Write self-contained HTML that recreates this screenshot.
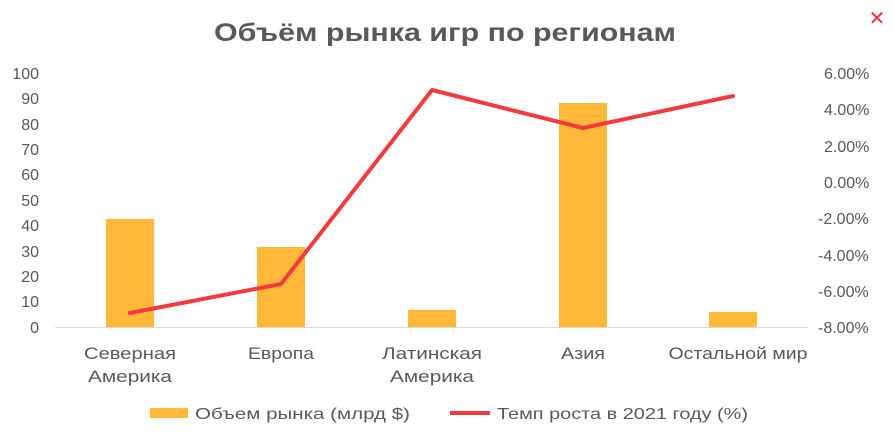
<!DOCTYPE html>
<html><head><meta charset="utf-8"><style>
html,body{margin:0;padding:0;background:#fff;}
svg{display:block;font-family:"Liberation Sans","DejaVu Sans",sans-serif;}
</style></head><body>
<svg width="894" height="443" viewBox="0 0 894 443" xmlns="http://www.w3.org/2000/svg">
<text x="445" y="41" text-anchor="middle" font-size="25" font-weight="bold" fill="#595959" textLength="462" lengthAdjust="spacingAndGlyphs">Объём рынка игр по регионам</text>
<text x="877" y="25" text-anchor="middle" font-size="20" fill="#e8323c">✕</text>
<g font-size="16" fill="#595959" text-anchor="end">
<text x="39" y="79">100</text><text x="39" y="104">90</text><text x="39" y="130">80</text>
<text x="39" y="155">70</text><text x="39" y="180">60</text><text x="39" y="206">50</text>
<text x="39" y="231">40</text><text x="39" y="257">30</text><text x="39" y="282">20</text>
<text x="39" y="307">10</text><text x="39" y="333">0</text>
</g>
<g font-size="16" fill="#595959" text-anchor="start">
<text x="824" y="79">6.00%</text><text x="824" y="115">4.00%</text><text x="824" y="152">2.00%</text>
<text x="824" y="188">0.00%</text><text x="818" y="224">-2.00%</text><text x="818" y="261">-4.00%</text>
<text x="818" y="297">-6.00%</text><text x="818" y="333">-8.00%</text>
</g>
<line x1="55" y1="327.5" x2="808" y2="327.5" stroke="#d9d9d9" stroke-width="1"/>
<g fill="#ffb837">
<rect x="106" y="219" width="48" height="108"/>
<rect x="257" y="247" width="48" height="80"/>
<rect x="408" y="310" width="48" height="17"/>
<rect x="559" y="103" width="48" height="224"/>
<rect x="709" y="312" width="48" height="15"/>
</g>
<polyline points="130,313 281,284 432,90 583,128 733,96" fill="none" stroke="#f23a3f" stroke-width="4" stroke-linejoin="round" stroke-linecap="round"/>
<g font-size="17" fill="#595959" text-anchor="middle">
<text x="130" y="359" textLength="92" lengthAdjust="spacingAndGlyphs">Северная</text><text x="130" y="382" textLength="84" lengthAdjust="spacingAndGlyphs">Америка</text>
<text x="281" y="359" textLength="66" lengthAdjust="spacingAndGlyphs">Европа</text>
<text x="432" y="359" textLength="100" lengthAdjust="spacingAndGlyphs">Латинская</text><text x="432" y="382" textLength="84" lengthAdjust="spacingAndGlyphs">Америка</text>
<text x="583" y="359" textLength="44" lengthAdjust="spacingAndGlyphs">Азия</text>
<text x="738" y="359" textLength="139" lengthAdjust="spacingAndGlyphs">Остальной мир</text>
</g>
<rect x="150" y="408" width="38" height="10" fill="#ffb837"/>
<text x="195" y="419" font-size="16" fill="#595959" textLength="215" lengthAdjust="spacingAndGlyphs">Объем рынка (млрд $)</text>
<line x1="450" y1="413" x2="490" y2="413" stroke="#f23a3f" stroke-width="4"/>
<text x="497" y="419" font-size="16" fill="#595959" textLength="251" lengthAdjust="spacingAndGlyphs">Темп роста в 2021 году (%)</text>
</svg>
</body></html>
